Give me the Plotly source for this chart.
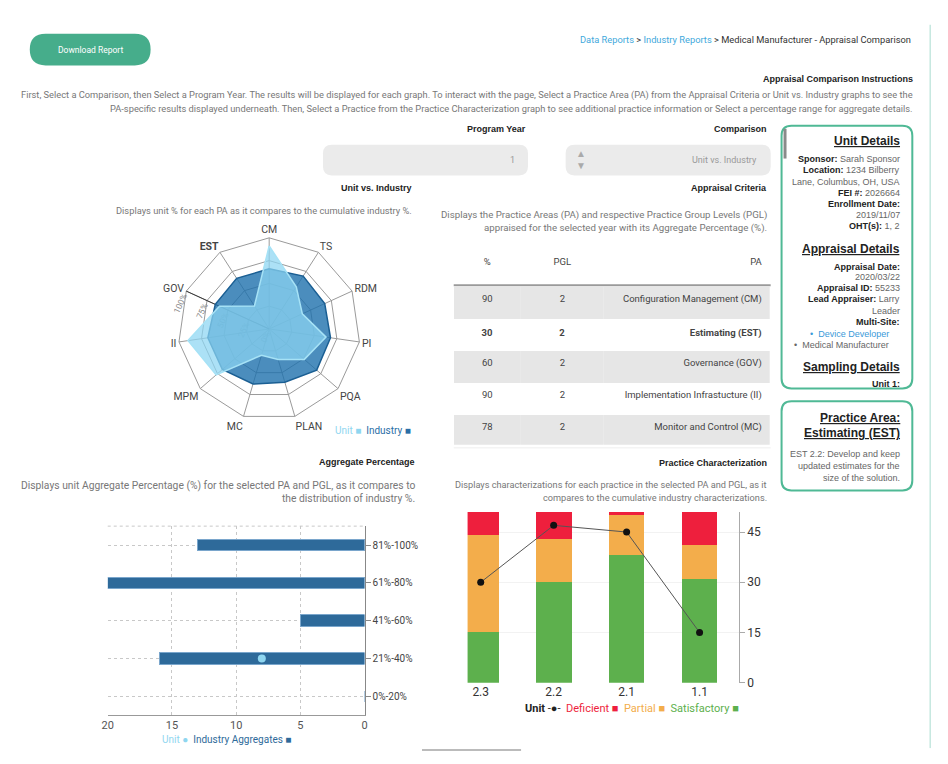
import plotly.graph_objects as go

# ---------------- data ----------------
pa_codes = ['CM', 'TS', 'RDM', 'PI', 'PQA', 'PLAN', 'MC', 'MPM', 'II', 'GOV', 'EST']
industry_pct = [66, 69, 67, 68, 69, 61, 63, 68, 68, 65, 66]
unit_pct = [91, 55, 40, 63, 51, 35, 30, 77, 90, 60, 30]
selected_pa = 'EST'
radial_ticks = [0, 25, 50, 75, 100]
radial_labels = ['0%', '25%', '50%', '75%', '100%']

table_pa = ['Configuration Management (CM)', 'Estimating (EST)', 'Governance (GOV)',
            'Implementation Infrastucture (II)', 'Monitor and Control (MC)']
table_pgl = [2, 2, 2, 2, 2]
table_pct = [90, 30, 60, 90, 78]
table_selected = 1

practices = ['1.1', '2.1', '2.2', '2.3']
satisfactory = [31, 38, 30, 15]
partial = [10, 12, 13, 29]
deficient = [10, 1, 8, 7]
unit_char = [15, 45, 47, 30]
char_ticks = [0, 15, 30, 45]

agg_ranges = ['0%-20%', '21%-40%', '41%-60%', '61%-80%', '81%-100%']
industry_agg = [0, 16, 5, 20, 13]
unit_agg_x = [8]
unit_agg_range = ['21%-40%']
agg_ticks = [0, 5, 10, 15, 20]

# ---------------- styles ----------------
W, H = 948, 764
FONT = 'Roboto, Liberation Sans, Arial, sans-serif'
HFONT = 'Liberation Sans, Arial, sans-serif'
C_IND = '#2a6ea6'
C_UNIT = '#8fd6f0'
C_SAT, C_PAR, C_DEF = '#5db04d', '#f3ad4b', '#ee1f3d'
C_AGG = '#2e6a9a'
TEAL = '#4fb995'
GREEN_BTN = '#46ad8b'


def px(x):
    return x / W


def py(y):
    return 1 - y / H


annotations = []
shapes = []


def text(x, y, s, size=9, color='#666', anchor='right', family=FONT):
    annotations.append(dict(x=px(x), y=py(y), xref='paper', yref='paper', text=s,
                            showarrow=False, xanchor=anchor, yanchor='middle',
                            font=dict(size=size, color=color, family=family)))


def rrect(x0, y0, x1, y1, r, fill='rgba(0,0,0,0)', line='rgba(0,0,0,0)', lw=0):
    X = lambda v: f'{px(v):.5f}'
    Y = lambda v: f'{py(v):.5f}'
    p = (f'M {X(x0 + r)},{Y(y0)} L {X(x1 - r)},{Y(y0)} Q {X(x1)},{Y(y0)} {X(x1)},{Y(y0 + r)} '
         f'L {X(x1)},{Y(y1 - r)} Q {X(x1)},{Y(y1)} {X(x1 - r)},{Y(y1)} '
         f'L {X(x0 + r)},{Y(y1)} Q {X(x0)},{Y(y1)} {X(x0)},{Y(y1 - r)} '
         f'L {X(x0)},{Y(y0 + r)} Q {X(x0)},{Y(y0)} {X(x0 + r)},{Y(y0)} Z')
    shapes.append(dict(type='path', path=p, xref='paper', yref='paper', fillcolor=fill,
                       line=dict(color=line, width=lw), layer='below'))


def hline(x0, x1, y, color='#ddd', width=1, dash='solid'):
    shapes.append(dict(type='line', xref='paper', yref='paper', x0=px(x0), x1=px(x1),
                       y0=py(y), y1=py(y), line=dict(color=color, width=width, dash=dash)))


fig = go.Figure()

# ---------------- radar ----------------
ticktext = [f'<b>{c}</b>' if c == selected_pa else c for c in pa_codes]
fig.add_trace(go.Scatterpolar(r=industry_pct + industry_pct[:1], theta=pa_codes + pa_codes[:1],
                              fill='toself', fillcolor='rgba(30,112,172,0.80)',
                              line=dict(color='#1b5f93', width=1.5), mode='lines',
                              name='Industry', showlegend=False))
fig.add_trace(go.Scatterpolar(r=unit_pct + unit_pct[:1], theta=pa_codes + pa_codes[:1],
                              fill='toself', fillcolor='rgba(140,214,242,0.72)',
                              line=dict(color='#a6e2f6', width=1.5), mode='lines',
                              name='Unit', showlegend=False))
cx, cy, R = 265.7, 332, 92

# ---------------- practice characterization ----------------
for name, vals, col in [('Satisfactory', satisfactory, C_SAT), ('Partial', partial, C_PAR),
                        ('Deficient', deficient, C_DEF)]:
    fig.add_trace(go.Bar(x=practices, y=vals, name=name, marker=dict(color=col, line=dict(width=0)),
                         width=0.49, xaxis='x', yaxis='y', showlegend=False))
fig.add_trace(go.Scatter(x=practices, y=unit_char, mode='lines+markers', name='Unit',
                         line=dict(color='#555', width=1), marker=dict(color='#111', size=7),
                         xaxis='x', yaxis='y', showlegend=False))

# ---------------- aggregate percentage ----------------
fig.add_trace(go.Bar(x=industry_agg, y=agg_ranges, orientation='h', width=0.3,
                     marker=dict(color=C_AGG, line=dict(color='#7aa6cc', width=1)),
                     xaxis='x2', yaxis='y2', showlegend=False, name='Industry Aggregates'))
fig.add_trace(go.Scatter(x=unit_agg_x, y=unit_agg_range, mode='markers',
                         marker=dict(color=C_UNIT, size=8), xaxis='x2', yaxis='y2',
                         showlegend=False, name='Unit'))

# ---------------- table ----------------
row_fill = ['#e6e6e6' if i % 2 == 0 else 'white' for i in range(len(table_pa))]


def bold_sel(vals):
    return [f'<b>{v}</b>' if i == table_selected else str(v) for i, v in enumerate(vals)]


fig.add_trace(go.Table(
    domain=dict(x=[px(452), px(772)], y=[py(449), py(252)]),
    columnwidth=[68, 84, 168],
    header=dict(values=['%', 'PGL', 'PA'], align=['center', 'center', 'right'],
                fill_color='white', line=dict(width=0), height=37,
                font=dict(size=9.5, color='#444', family=FONT)),
    cells=dict(values=[bold_sel(table_pct), bold_sel(table_pgl), bold_sel(table_pa)],
               align=['center', 'center', 'right'], fill_color=[row_fill] * 3,
               line=dict(width=0), height=32,
               font=dict(size=9.5, color='#444', family=FONT))))
hline(452, 772, 288, color='#9a9a9a', width=2)
hline(452, 772, 452, color='#eeeeee', width=1)

# ---------------- page furniture ----------------
rrect(24, 34, 146, 66, 16, fill=GREEN_BTN)
text(85, 50, 'Download Report', size=8.5, color='white', anchor='center')
text(916, 40, "<span style='color:#3fa9dc'>Data Reports</span> <span style='color:#333'>></span> "
              "<span style='color:#3fa9dc'>Industry Reports</span> "
              "<span style='color:#333'>> Medical Manufacturer - Appraisal Comparison</span>",
     size=9.3)
shapes.append(dict(type='line', xref='paper', yref='paper', x0=px(933), x1=px(933), y0=py(25), y1=py(755),
                   line=dict(color='#a9dccf', width=1)))
text(918, 80, '<b>Appraisal Comparison Instructions</b>', size=9, color='#222', family=HFONT)
text(918, 96, 'First, Select a Comparison, then Select a Program Year. The results will be displayed for each graph. '
              'To interact with the page, Select a Practice Area (PA) from the Appraisal Criteria or Unit vs. Industry graphs to see the',
     size=9.3, color='#777')
text(918, 110, 'PA-specific results displayed underneath. Then, Select a Practice from the Practice Characterization graph '
               'to see additional practice information or Select a percentage range for aggregate details.',
     size=9.3, color='#777')

# side boxes
rrect(783, 127, 915, 392, 10, line=TEAL, lw=2)
rrect(783, 405, 915, 495, 10, line=TEAL, lw=2)
shapes.append(dict(type='rect', xref='paper', yref='paper', x0=px(785), x1=px(788), y0=py(160), y1=py(130),
                   fillcolor='#8a8a8a', line=dict(width=0)))
BX = 905
text(BX, 142, '<b><u>Unit Details</u></b>', size=12, color='#222', family=HFONT)
side_lines = [
    (160, '<b>Sponsor:</b> Sarah Sponsor'), (172, '<b>Location:</b> 1234 Bilberry'),
    (184, 'Lane, Columbus, OH, USA'), (195, '<b>FEI #:</b> 2026664'), (206, '<b>Enrollment Date:</b>'),
    (217, '2019/11/07'), (228, '<b>OHT(s):</b> 1, 2'),
    (269, '<b>Appraisal Date:</b>'), (280, '2020/03/22'), (291, '<b>Appraisal ID:</b> 55233'),
    (302, '<b>Lead Appraiser:</b> Larry'), (314, 'Leader'), (325, '<b>Multi-Site:</b>'),
    (388, '<b>Unit 1:</b>'),
]
for yy, s in side_lines:
    text(BX, yy, s.replace('<b>', "<b><span style='color:#222'>").replace('</b>', '</span></b>'),
         size=9, color='#666', family=HFONT)
text(893, 337, '•  Device Developer', size=9, color='#3a9ad9', family=HFONT)
text(893, 348, '•  Medical Manufacturer', size=9, color='#666', family=HFONT)
text(BX, 251, '<b><u>Appraisal Details</u></b>', size=12, color='#222', family=HFONT)
text(BX, 370, '<b><u>Sampling Details</u></b>', size=12, color='#222', family=HFONT)
text(BX, 422, '<b><u>Practice Area:</u></b>', size=12, color='#222', family=HFONT)
text(BX, 437, '<b><u>Estimating (EST)</u></b>', size=12, color='#222', family=HFONT)
text(BX, 458, 'EST 2.2: Develop and keep', size=9, color='#666', family=HFONT)
text(BX, 470, 'updated estimates for the', size=9, color='#666', family=HFONT)
text(BX, 482, 'size of the solution.', size=9, color='#666', family=HFONT)

# selectors
text(770, 130, '<b>Comparison</b>', size=9, color='#222', family=HFONT)
text(527, 130, '<b>Program Year</b>', size=9, color='#222', family=HFONT)
rrect(565, 146, 772, 177, 9, fill='#ebebeb')
rrect(320, 146, 527, 177, 9, fill='#ebebeb')
text(760, 161, 'Unit vs. Industry', size=9, color='#999')
text(581, 155, '▲', size=10, color='#aaa', anchor='center')
text(581, 167, '▼', size=10, color='#aaa', anchor='center')
text(516, 161, '1', size=9, color='#999')

# section titles
text(770, 190, '<b>Appraisal Criteria</b>', size=9, color='#222', family=HFONT)
text(770, 217, 'Displays the Practice Areas (PA) and respective Practice Group Levels (PGL)', size=9.7, color='#777')
text(770, 230, 'appraised for the selected year with its Aggregate Percentage (%).', size=9.7, color='#777')
text(770, 467, '<b>Practice Characterization</b>', size=9, color='#222', family=HFONT)
text(770, 489, 'Displays characterizations for each practice in the selected PA and PGL, as it', size=9.2, color='#777')
text(770, 502, 'compares to the cumulative industry characterizations.', size=9.2, color='#777')
text(412, 190, '<b>Unit vs. Industry</b>', size=9, color='#222', family=HFONT)
text(412, 212, 'Displays unit % for each PA as it compares to the cumulative industry %.', size=9.3, color='#777')
text(415, 466, '<b>Aggregate Percentage</b>', size=9, color='#222', family=HFONT)
text(415, 490, 'Displays unit Aggregate Percentage (%) for the selected PA and PGL, as it compares to', size=10.3, color='#777')
text(415, 503, 'the distribution of industry %.', size=10.3, color='#777')

# legends (as text)
text(371, 434, f"<span style='color:{C_UNIT}'>Unit ■</span>  <span style='color:{C_IND}'>Industry ■</span>",
     size=10, anchor='center')
text(632, 715, "<b style='color:#222'>Unit</b> <span style='color:#222'>-●-</span>  "
               f"<span style='color:{C_DEF}'>Deficient ■</span>  <span style='color:{C_PAR}'>Partial ■</span>  "
               f"<span style='color:{C_SAT}'>Satisfactory ■</span>", size=11, anchor='center')
text(223, 746, f"<span style='color:{C_UNIT}'>Unit ●</span>  <span style='color:{C_AGG}'>Industry Aggregates ■</span>",
     size=10, anchor='center')
shapes.append(dict(type='line', xref='paper', yref='paper', x0=px(420), x1=px(520), y0=py(757), y1=py(757),
                   line=dict(color='#bbbbbb', width=2)))
shapes.append(dict(type='line', xref='x2 domain', yref='y2 domain', x0=0, x1=1, y0=1, y1=1,
                   line=dict(color='#c8c8c8', width=1, dash='dot')))

fig.update_layout(
    width=W, height=H, margin=dict(l=0, r=0, t=0, b=0),
    paper_bgcolor='white', plot_bgcolor='white', barmode='stack',
    font=dict(family=FONT, size=10, color='#444'),
    annotations=annotations, shapes=shapes,
    polar=dict(
        domain=dict(x=[px(cx - R), px(cx + R)], y=[py(cy + R), py(cy - R)]),
        bgcolor='rgba(0,0,0,0)', gridshape='linear',
        angularaxis=dict(type='category', categoryarray=pa_codes, direction='clockwise', rotation=90,
                         tickvals=pa_codes, ticktext=ticktext, ticks='', showline=True,
                         linecolor='#9a9a9a', gridcolor='#9a9a9a', layer='below traces',
                         tickfont=dict(size=10.5, color='#444', family=FONT)),
        radialaxis=dict(range=[0, 100], tickvals=radial_ticks, ticktext=radial_labels, angle=166,
                        side='counterclockwise', tickangle=90, showline=True, linecolor='#333',
                        gridcolor='#9a9a9a', ticks='', layer='below traces',
                        tickfont=dict(size=8.5, color='#888', family=FONT))),
    xaxis=dict(domain=[px(466), px(740)], type='category', categoryorder='array', categoryarray=practices,
               range=[3.18, -0.54], showgrid=False, zeroline=False, showline=False, ticks='',
               tickfont=dict(size=12, color='#333'), anchor='y'),
    yaxis=dict(domain=[py(689), py(516.7)], range=[0, 51], side='right', tickvals=char_ticks,
               showgrid=True, gridcolor='#f2f2f2', zeroline=False, showline=True, linecolor='#aaa',
               ticks='outside', ticklen=5, tickcolor='#aaa', tickfont=dict(size=12, color='#333'),
               anchor='x'),
    xaxis2=dict(domain=[px(102.7), px(362)], range=[20, 0], tickvals=agg_ticks,
                showgrid=True, gridcolor='#c8c8c8', griddash='dot', zeroline=False,
                showline=True, linecolor='#999', ticks='', tickfont=dict(size=11, color='#555'),
                anchor='y2'),
    yaxis2=dict(domain=[py(721.7), py(531)], type='category', categoryorder='array',
                categoryarray=agg_ranges, range=[-0.5, 4.5], side='right',
                showgrid=True, gridcolor='#c8c8c8', griddash='dot', showline=True, linecolor='#888',
                ticks='outside', ticklen=5, tickcolor='#888', tickfont=dict(size=10, color='#444'),
                anchor='x2'),
)

fig.write_html("out.html", config={'displayModeBar': False},
               post_script="document.body.style.margin='0';document.body.style.overflow='hidden';")
